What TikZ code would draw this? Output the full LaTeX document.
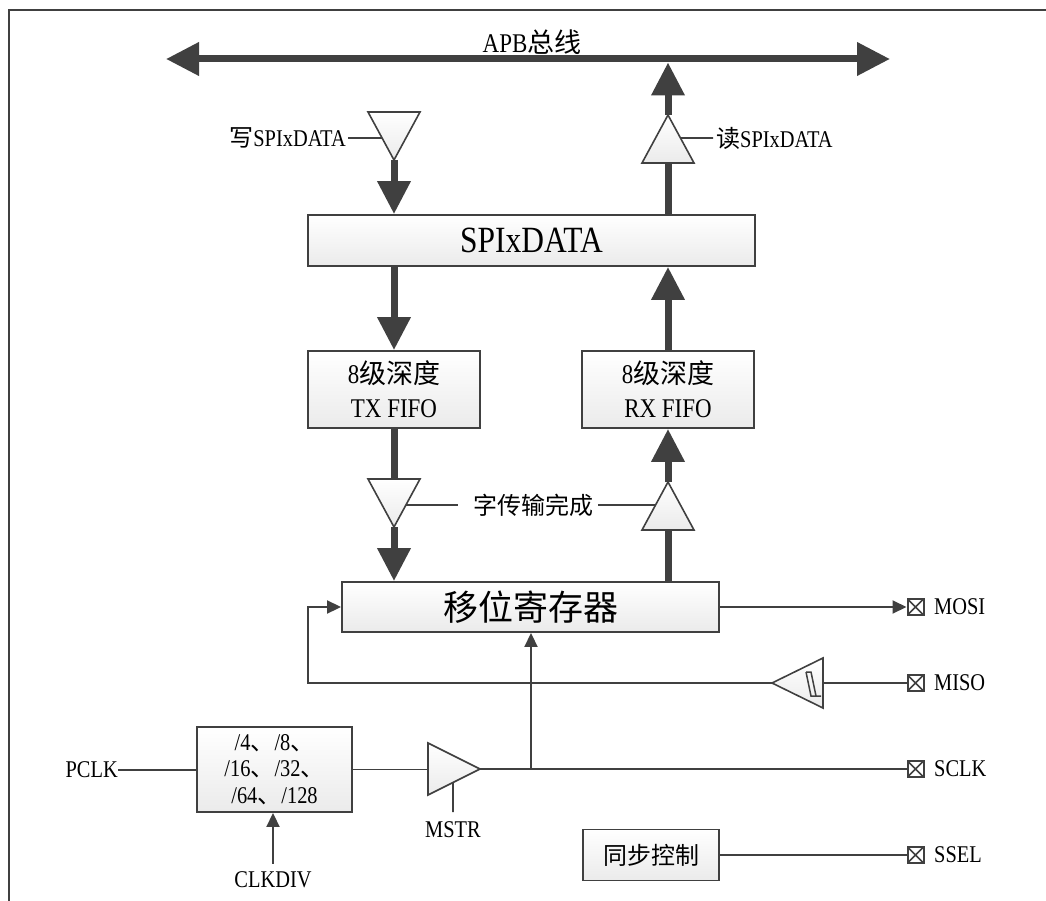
\documentclass[tikz,border=0pt]{standalone}
\usepackage{fontspec}
\setmainfont{Liberation Serif}[FakeStretch=0.85]
\newfontfamily\cjk{Noto Sans CJK SC}
\usetikzlibrary{arrows.meta,calc}
\definecolor{dk}{HTML}{404040}
\newcommand\myfs[2]{\fontsize{#1}{#2}\selectfont}
\begin{document}
\begin{tikzpicture}[x=1pt,y=-1pt,
  wire/.style={draw=dk,line width=1.9pt},
  thinarrow/.style={wire,-{Triangle[length=14pt,width=13pt]}},
  busline/.style={draw=dk,line width=7pt},
  busarrow/.style={busline,-{Triangle[length=33pt,width=32pt]}},
  blk/.style={draw=dk,line width=1.9pt,top color=white,bottom color=black!8,inner sep=0pt,align=center,text=black},
  buf/.style={draw=dk,line width=1.6pt,top color=white,bottom color=black!8,line join=miter},
  pinbox/.style={draw=dk,line width=2pt,fill=white,minimum size=16pt,inner sep=0pt,
    path picture={\draw[dk,line width=1.6pt] (path picture bounding box.north west)--(path picture bounding box.south east) (path picture bounding box.north east)--(path picture bounding box.south west);}},
  lbl/.style={inner sep=0pt,text=black},
  small/.style={lbl,font=\myfs{24pt}{28pt}}
]
\useasboundingbox (0,0) rectangle (1046,901);
% frame
\draw[dk,line width=2.5pt] (9,901) -- (9,10) -- (1046,10);

% APB bus
\coordinate (busL) at (166,59);
\coordinate (busR) at (890,59);
\draw[busline,{Triangle[length=33pt,width=32pt]}-{Triangle[length=33pt,width=32pt]}] (busL) -- (busR);
\node[lbl,font=\myfs{27pt}{30pt}] (apb) at (532,42) {APB{\cjk 总线}};

% boxes
\node[blk,minimum width=447pt,minimum height=51pt,font=\myfs{37pt}{40pt}] (spidata) at (531.5,240.5) {SPIxDATA};
\node[blk,minimum width=172pt,minimum height=77pt,font=\myfs{27pt}{34pt}] (tx) at (394,389.5) {8{\cjk 级深度}\\TX FIFO};
\node[blk,minimum width=172pt,minimum height=77pt,font=\myfs{27pt}{34pt}] (rx) at (668,389.5) {8{\cjk 级深度}\\RX FIFO};
\node[blk,minimum width=377pt,minimum height=50pt,font=\myfs{35pt}{40pt}] (shift) at (530.5,607) {\cjk 移位寄存器};
\node[blk,minimum width=155pt,minimum height=85pt,font=\myfs{24pt}{26.5pt}] (div) at (274.5,769.5) {/4{\cjk 、}/8{\cjk 、}\\/16{\cjk 、}/32{\cjk 、}\\/64{\cjk 、}/128};
\node[blk,minimum width=136pt,minimum height=51pt,font=\myfs{24pt}{28pt}] (sync) at (651,855) {\cjk 同步控制};

% write path (top)
\coordinate (wA) at (368,112);
\coordinate (wB) at (420,112);
\coordinate (wT) at (394,160);
\draw[busline] (wA -| wT |- busL) -- ($(wA)!0.5!(wB)$);
\path[buf] (wA) -- (wB) -- (wT) -- cycle;
\draw[busarrow] (wT) -- (spidata.north -| wT);
\coordinate (wE) at ($(wA)!0.5417!(wT)$);
\node[small,anchor=east] (wlbl) at (346,138) {{\cjk 写}SPIxDATA};
\draw[wire] ([xshift=2pt]wlbl.east) -- (wE);

% read path (top)
\coordinate (rA) at (668,115);
\coordinate (rL) at (642,163);
\coordinate (rR) at (694,163);
\draw[busline] (spidata.north -| rA) -- ($(rL)!0.5!(rR)$);
\path[buf] (rA) -- (rL) -- (rR) -- cycle;
\draw[busarrow] (rA) -- ([yshift=-3.5pt]rA |- busL);
\coordinate (rE) at ($(rA)!0.479!(rR)$);
\node[small,anchor=west] (rlbl) at (716,138) {{\cjk 读}SPIxDATA};
\draw[wire] (rE) -- ([xshift=-3pt]rlbl.west);

% SPIxDATA <-> FIFOs
\draw[busarrow] (spidata.south -| tx) -- (tx.north);
\draw[busarrow] (rx.north) -- (spidata.south -| rx);

% lower write buffer
\coordinate (tA) at (368,479);
\coordinate (tB) at (420,479);
\coordinate (tT) at (394,527);
\draw[busline] (tx.south) -- ($(tA)!0.5!(tB)$);
\path[buf] (tA) -- (tB) -- (tT) -- cycle;
\draw[busarrow] (tT) -- (shift.north -| tT);

% lower read buffer
\coordinate (qA) at (668,482);
\coordinate (qL) at (642,530);
\coordinate (qR) at (694,530);
\draw[busline] (shift.north -| qA) -- ($(qL)!0.5!(qR)$);
\path[buf] (qA) -- (qL) -- (qR) -- cycle;
\draw[busarrow] (qA) -- (rx.south);

\node[small] (done) at (533,505) {\cjk 字传输完成};
\coordinate (tE) at ($(tB)!0.5417!(tT)$);
\coordinate (qE) at ($(qA)!0.479!(qL)$);
\draw[wire] (tE) -- ([xshift=-15pt]done.west);
\draw[wire] ([xshift=5pt]done.east) -- (qE);

% pins
\node[pinbox] (mosi) at (915.5,607) {};
\node[pinbox] (miso) at (915.5,683) {};
\node[pinbox] (sclk) at (915.5,769) {};
\node[pinbox] (ssel) at (915.5,855) {};
\node[small,anchor=west] (mosil) at (934,607) {MOSI};
\node[small,anchor=west] (misol) at (934,683) {MISO};
\node[small,anchor=west] (sclkl) at (934,769) {SCLK};
\node[small,anchor=west] (ssell) at (934,855) {SSEL};

% MOSI
\draw[thinarrow] (shift.east) -- (mosi.west);

% MISO schmitt buffer and feedback
\coordinate (mT) at (823,658);
\coordinate (mB) at (823,708);
\coordinate (mTip) at (772,683);
\coordinate (mBack) at (823,683);
\draw[wire] (miso.west) -- (mBack);
\path[buf] (mT) -- (mB) -- (mTip) -- cycle;
\draw[dk,line width=1.5pt,line join=miter] (806,672) -- (811,672) -- (816,696) -- (821,696);
\draw[dk,line width=1.5pt,line join=miter] (806,672) -- (811,696) -- (816,696);
\coordinate (fb) at (308,607);
\draw[thinarrow] (mTip) -| (fb) -- (shift.west);

% clock path
\node[small,anchor=east] (pclk) at (118,770) {PCLK};
\draw[wire] (pclk.east) -- (div.west |- pclk.east);
\coordinate (bT) at (428,743);
\coordinate (bB) at (428,795);
\coordinate (bTip) at (480,769);
\draw[wire] (div.east) -- (div.east -| bT);
\path[buf] (bT) -- (bB) -- (bTip) -- cycle;
\draw[wire] (bTip) -- (sclk.west);
\node[small] (mstr) at (453,830) {MSTR};
\coordinate (mE) at ($(bB)!0.48!(bTip)$);
\coordinate (mlow) at (453,812);
\draw[wire] (mE) -- (mlow);
\coordinate (jn) at (531,769);
\draw[thinarrow] (jn) -- (shift.south -| jn);
\node[small] (clkdiv) at (273,880) {CLKDIV};
\draw[thinarrow] ([yshift=8pt]clkdiv.north) -- (div.south -| clkdiv);

% SSEL
\draw[wire] (sync.east) -- (ssel.west);
\end{tikzpicture}
\end{document}
